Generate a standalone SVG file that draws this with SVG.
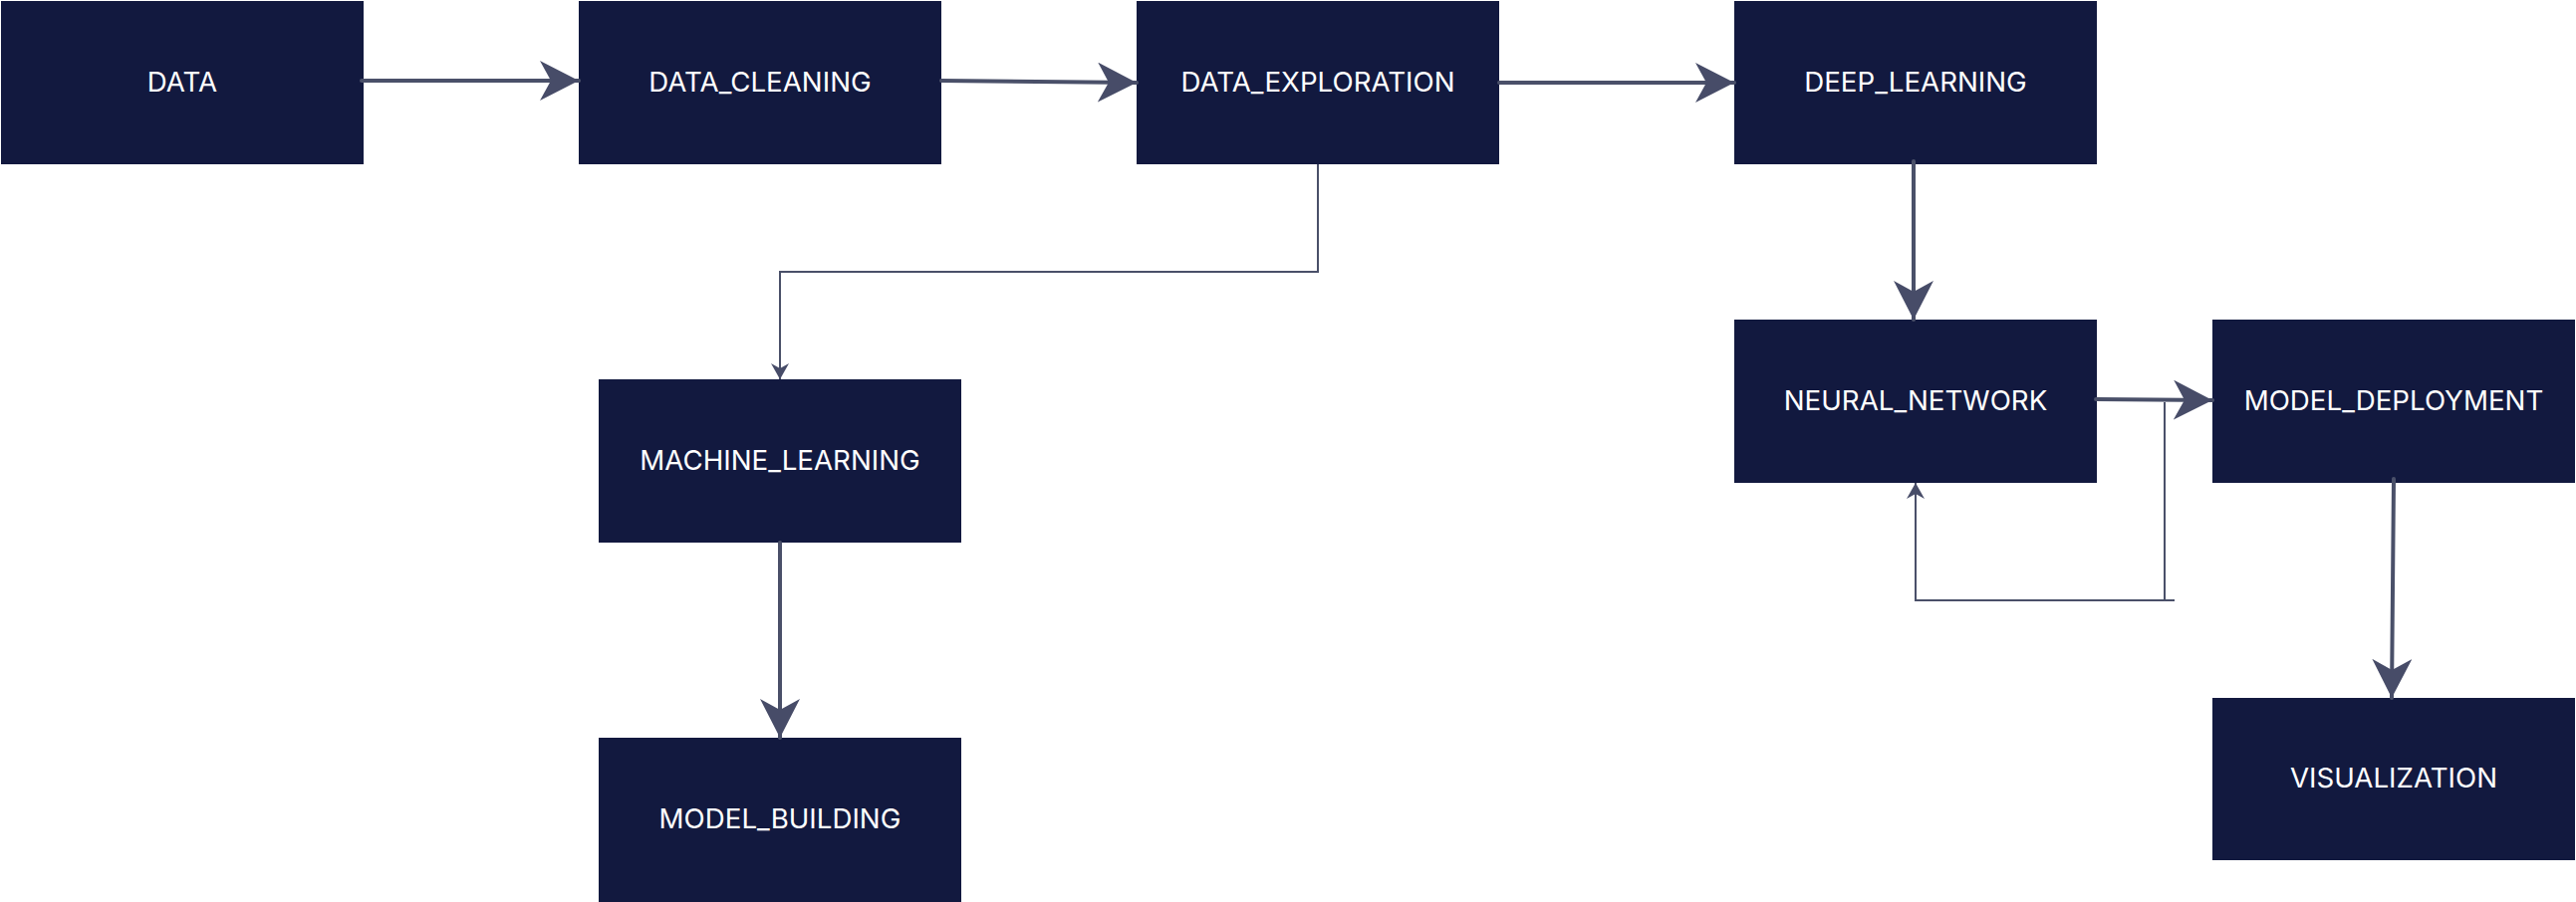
<svg xmlns="http://www.w3.org/2000/svg" width="2586" height="906" viewBox="0 0 2586 906">
<style>
.node rect { fill: #12193F; }
.node text { fill: #FFFFFF; font-family: Inter, "Liberation Sans", sans-serif; font-size: 27.7px; text-anchor: middle; }
.thick { fill: none; stroke: #4A5069; stroke-width: 4; stroke-linecap: round; }
.thin { fill: none; stroke: #4A5069; stroke-width: 2; }
</style>
<defs>
<marker id="big" markerUnits="userSpaceOnUse" markerWidth="40" markerHeight="40" refX="39" refY="20" orient="auto" viewBox="0 0 40 40">
<path d="M0,0 L39,20 L0,40 L11,20 Z" fill="#474C68"/>
</marker>
<marker id="small" markerUnits="userSpaceOnUse" markerWidth="18" markerHeight="18" refX="16" refY="9" orient="auto" viewBox="0 0 18 18">
<path d="M0,0 L16,9 L0,18 L5,9 Z" fill="#474C68"/>
</marker>
</defs>
<rect width="2586" height="906" fill="#FFFFFF"/>
<g id="data" class="node"><rect x="1" y="1" width="364" height="164"/><text x="183" y="92">DATA</text></g>
<g id="data_cleaning" class="node"><rect x="581" y="1" width="364" height="164"/><text x="763" y="92">DATA_CLEANING</text></g>
<g id="data_exploration" class="node"><rect x="1141" y="1" width="364" height="164"/><text x="1323" y="92">DATA_EXPLORATION</text></g>
<g id="deep_learning" class="node"><rect x="1741" y="1" width="364" height="164"/><text x="1923" y="92">DEEP_LEARNING</text></g>
<g id="neural_network" class="node"><rect x="1741" y="321" width="364" height="164"/><text x="1923" y="412">NEURAL_NETWORK</text></g>
<g id="model_deployment" class="node"><rect x="2221" y="321" width="364" height="164"/><text x="2403" y="412">MODEL_DEPLOYMENT</text></g>
<g id="machine_learning" class="node"><rect x="601" y="381" width="364" height="164"/><text x="783" y="472">MACHINE_LEARNING</text></g>
<g id="model_building" class="node"><rect x="601" y="741" width="364" height="165"/><text x="783" y="832">MODEL_BUILDING</text></g>
<g id="visualization" class="node"><rect x="2221" y="701" width="364" height="163"/><text x="2403" y="791">VISUALIZATION</text></g>
<g id="connectors">
<path class="thick" d="M363,81 L581,81" marker-end="url(#big)"/>
<path class="thick" d="M945,81 L1141,83" marker-end="url(#big)"/>
<path class="thick" d="M1505,83 L1741,83" marker-end="url(#big)"/>
<path class="thin" d="M1323,165 L1323,273 L783,273 L783,381" marker-end="url(#small)"/>
<path class="thick" d="M1921,162 L1921,321" marker-end="url(#big)"/>
<path class="thick" d="M2104,401 L2221,402" marker-end="url(#big)"/>
<path class="thin" d="M2173,404 L2173,603"/>
<path class="thin" d="M2183,603 L1923,603 L1923,485" marker-end="url(#small)"/>
<path class="thick" d="M2403,481 L2401,701" marker-end="url(#big)"/>
<path class="thick" d="M783,545 L783,741" marker-end="url(#big)"/>
</g>
</svg>
